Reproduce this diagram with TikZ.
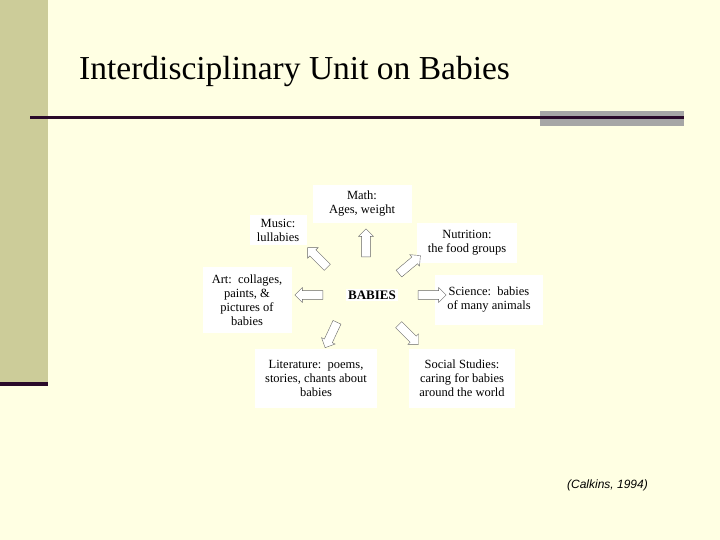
\documentclass[tikz,border=0pt]{standalone}
\usepackage{fontspec}
\setmainfont{Liberation Serif}
\setsansfont{Liberation Sans}
\usetikzlibrary{shapes.arrows}
\definecolor{cream}{HTML}{FFFFE3}
\definecolor{olivebar}{HTML}{CCCC99}
\definecolor{darkrule}{HTML}{2A0A2A}
\tikzstyle{topic} = [rectangle, fill=white, align=center, font=\fontsize{12.5}{14}\selectfont, inner sep=2pt]
\tikzstyle{blockarrow} = [single arrow, draw=gray!80!black, fill=white, minimum height=28pt,
    minimum width=15pt, single arrow head extend=3pt, inner xsep=0pt, inner ysep=4pt]

\begin{document}
\begin{tikzpicture}[x=1pt, y=-1pt]
    % Background
    \useasboundingbox (0,0) rectangle (720,540);
    \fill [cream] (0,0) rectangle (720,540);
    \fill [olivebar] (0,0) rectangle (48,382);
    \fill [darkrule] (0,382) rectangle (48,386);
    \fill [gray!70] (540,111) rectangle (684,126);
    \fill [darkrule] (30,116) rectangle (684,119);
    % Title
    \node [anchor=base west, font=\fontsize{33.5}{36}\selectfont, inner sep=0pt] (title) at (79,80) {Interdisciplinary Unit on Babies};
    \node [anchor=base east, font=\sffamily\itshape\fontsize{12}{14}\selectfont, inner sep=0pt] (cite) at (648,488) {(Calkins, 1994)};
    % Place nodes
    \node [topic, font=\bfseries\fontsize{13}{14}\selectfont] (babies) at (372,295) {BABIES};
    \node [topic, minimum width=99pt, minimum height=38pt] (math) at (362,204) {Math:\\Ages, weight};
    \node [topic, minimum width=57pt, minimum height=30pt] (music) at (278,230) {Music:\\lullabies};
    \node [topic, minimum width=100pt, minimum height=40pt] (nutrition) at (467,243) {Nutrition:\\the food groups};
    \node [topic, minimum width=108pt, minimum height=50pt] (science) at (489,300) {Science:\ \ babies\\of many animals};
    \node [topic, minimum width=89pt, minimum height=66pt] (art) at (247,300) {Art:\ \ collages,\\paints, \&\\pictures of\\babies};
    \node [topic, minimum width=122pt, minimum height=59pt] (literature) at (316,378) {Literature:\ \ poems,\\stories, chants about\\babies};
    \node [topic, minimum width=106pt, minimum height=59pt] (social) at (462,378) {Social Studies:\\caring for babies\\around the world};
    % Block arrows
    \node [blockarrow, rotate=90] (tomath) at (366,245) {};
    \node [blockarrow, rotate=135] (tomusic) at (319,259) {};
    \node [blockarrow, rotate=40] (tonutrition) at (408,266) {};
    \node [blockarrow, rotate=180] (toart) at (311,295) {};
    \node [blockarrow] (toscience) at (430,295) {};
    \node [blockarrow, rotate=-115] (toliterature) at (332,333) {};
    \node [blockarrow, rotate=-45] (tosocial) at (407,333) {};
\end{tikzpicture}
\end{document}
